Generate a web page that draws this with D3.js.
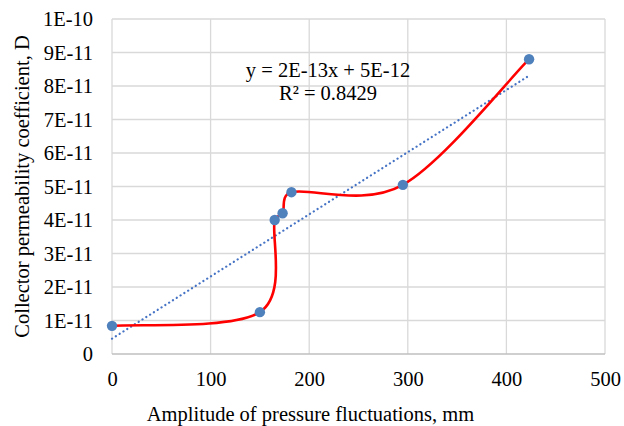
<!DOCTYPE html>
<html>
<head>
<meta charset="utf-8">
<script src="https://cdn.jsdelivr.net/npm/d3@7"></script>
<style>
  body { margin: 0; background: #fff; }
  text { font-family: "Liberation Serif", "Times New Roman", serif; fill: #000; }
</style>
</head>
<body>
<div id="chart"></div>
<script>
// data
var amplitude = [0, 150, 165, 173, 182, 295, 423];
var permeability = [8.4e-12, 1.25e-11, 4.0e-11, 4.2e-11, 4.83e-11, 5.05e-11, 8.8e-11];
var xTicks = [0, 100, 200, 300, 400, 500];
var yTicks = [0, 1e-11, 2e-11, 3e-11, 4e-11, 5e-11, 6e-11, 7e-11, 8e-11, 9e-11, 1e-10];
var yTickLabels = ["0", "1E-11", "2E-11", "3E-11", "4E-11", "5E-11", "6E-11", "7E-11", "8E-11", "9E-11", "1E-10"];
var equationText = "y = 2E-13x + 5E-12";
var r2Text = "R² = 0.8429";

var width = 624, height = 426;
var margin = {top: 19, right: 19, bottom: 72, left: 112};
var w = width - margin.left - margin.right,
    h = height - margin.top - margin.bottom;
var fontSize = "20.5px";

var svg = d3.select("#chart").append("svg")
    .attr("width", width)
    .attr("height", height);

var g = svg.append("g")
    .attr("transform", "translate(" + margin.left + "," + margin.top + ")");

var x = d3.scaleLinear().domain([0, 500]).range([0, w]);
var y = d3.scaleLinear().domain([0, 1e-10]).range([h, 0]);

// grid
g.append("g")
    .selectAll("line")
    .data(xTicks)
    .enter().append("line")
    .attr("x1", function(d) { return x(d); })
    .attr("x2", function(d) { return x(d); })
    .attr("y1", 0).attr("y2", h)
    .attr("stroke", "#d9d9d9").attr("stroke-width", 1.3);

g.append("g")
    .selectAll("line")
    .data(yTicks)
    .enter().append("line")
    .attr("x1", 0).attr("x2", w)
    .attr("y1", function(d) { return y(d); })
    .attr("y2", function(d) { return y(d); })
    .attr("stroke", function(d) { return d === 0 ? "#bfbfbf" : "#d9d9d9"; })
    .attr("stroke-width", 1.3);

// axes (labels only)
var xAxis = g.append("g")
    .attr("transform", "translate(0," + h + ")")
    .call(d3.axisBottom(x).tickValues(xTicks).tickSize(0).tickPadding(17).tickFormat(d3.format("d")));
xAxis.select(".domain").remove();
xAxis.selectAll("text").style("font-size", fontSize).style("font-family", "Liberation Serif");

var yAxis = g.append("g")
    .call(d3.axisLeft(y).tickValues(yTicks).tickSize(0).tickPadding(19)
        .tickFormat(function(d, i) { return yTickLabels[i]; }));
yAxis.select(".domain").remove();
yAxis.selectAll("text").style("font-size", fontSize).style("font-family", "Liberation Serif");

// linear trend from data
var mx = d3.mean(amplitude),
    my = d3.mean(permeability);
var sxy = d3.sum(amplitude, function(v, i) { return (v - mx) * (permeability[i] - my); });
var sxx = d3.sum(amplitude, function(v) { return (v - mx) * (v - mx); });
var slope = sxy / sxx, intercept = my - slope * mx;
var trendX = [0, d3.max(amplitude)];

g.append("path")
    .datum(trendX)
    .attr("fill", "none")
    .attr("stroke", "#4472c4")
    .attr("stroke-width", 2.2)
    .attr("stroke-linecap", "round")
    .attr("stroke-dasharray", "0.1 4.4")
    .attr("d", d3.line()
        .x(function(d) { return x(d); })
        .y(function(d) { return y(slope * d + intercept); }));

// smoothed data line (excel-like: 1/6 tangents, clamped to half the neighbour segment)
var pts = amplitude.map(function(v, i) { return [v, permeability[i]]; });
var px = pts.map(function(d) { return [x(d[0]), y(d[1])]; });

function smoothPath(p) {
    var path = d3.path();
    var n = p.length;
    var tan = p.map(function(d, i) {
        var a = p[Math.max(i - 1, 0)], b = p[Math.min(i + 1, n - 1)];
        return [(b[0] - a[0]) / 6, (b[1] - a[1]) / 6];
    });
    function clamp(t, seg) {
        var len = Math.hypot(t[0], t[1]), lim = seg / 2;
        if (len > lim && len > 0) return [t[0] * lim / len, t[1] * lim / len];
        return t;
    }
    path.moveTo(p[0][0], p[0][1]);
    for (var i = 0; i < n - 1; i++) {
        var seg = Math.hypot(p[i + 1][0] - p[i][0], p[i + 1][1] - p[i][1]);
        var t0 = clamp(tan[i], seg), t1 = clamp(tan[i + 1], seg);
        path.bezierCurveTo(p[i][0] + t0[0], p[i][1] + t0[1],
            p[i + 1][0] - t1[0], p[i + 1][1] - t1[1],
            p[i + 1][0], p[i + 1][1]);
    }
    return path.toString();
}

g.append("path")
    .attr("fill", "none")
    .attr("stroke", "#ff0000")
    .attr("stroke-width", 2.6)
    .attr("d", smoothPath(px));

g.append("g")
    .selectAll("circle")
    .data(pts)
    .enter().append("circle")
    .attr("cx", function(d) { return x(d[0]); })
    .attr("cy", function(d) { return y(d[1]); })
    .attr("r", 5.2)
    .attr("fill", "#4f81bd");

// trendline label
svg.append("text")
    .attr("x", 328).attr("y", 77)
    .attr("text-anchor", "middle")
    .style("font-size", fontSize)
    .text(equationText);
svg.append("text")
    .attr("x", 328).attr("y", 100)
    .attr("text-anchor", "middle")
    .style("font-size", fontSize)
    .text(r2Text);

// axis titles
svg.append("text")
    .attr("x", 310.5).attr("y", 421)
    .attr("text-anchor", "middle")
    .style("font-size", fontSize)
    .text("Amplitude of pressure fluctuations, mm");

svg.append("text")
    .attr("transform", "translate(29,186.5) rotate(-90)")
    .attr("text-anchor", "middle")
    .style("font-size", fontSize)
    .text("Collector permeability coefficient, D");
</script>
</body>
</html>
